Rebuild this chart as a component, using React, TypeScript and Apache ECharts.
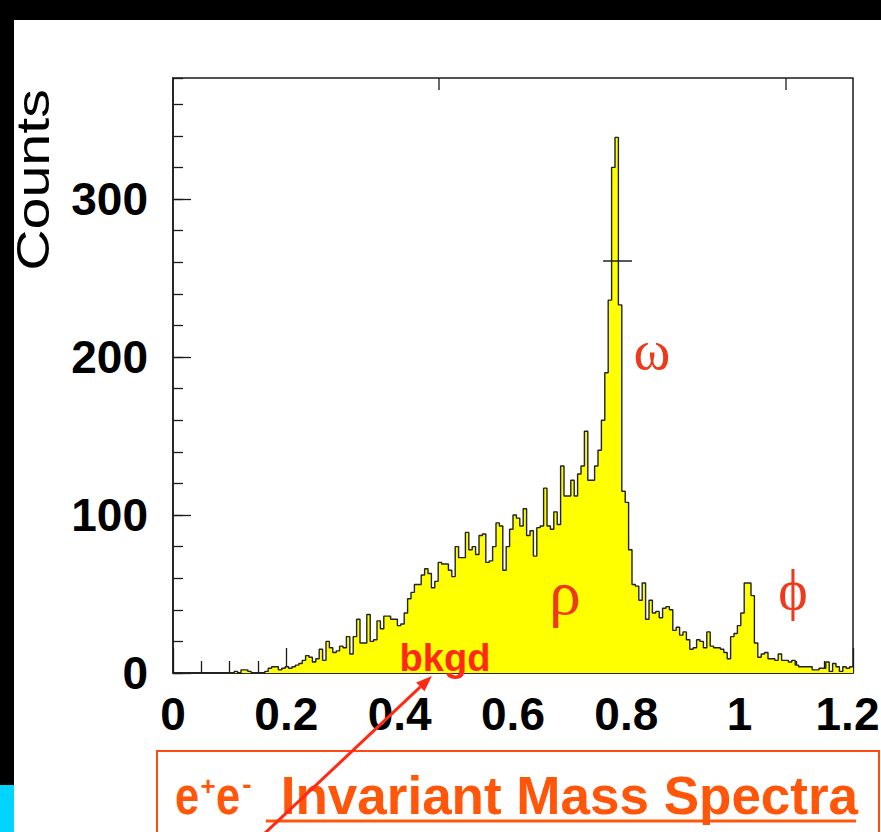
import React, { useEffect, useRef } from "react";
import * as echarts from "echarts";

// Histogram: 200 bins of width 0.006 GeV from 0 to 1.2
const binStart = 0;
const binWidth = 0.006;
const counts = [
  0, 0, 0, 0, 0, 0, 0, 0, 0, 0,
  0, 0, 0, 0, 0, 0, 0, 0, 1, 0,
  2, 2, 1, 0, 0, 0, 0, 1, 3, 4,
  4, 2, 3, 4, 3, 4, 5, 6, 8, 11,
  10, 7, 9, 15, 8, 20, 16, 13, 14, 17,
  16, 23, 12, 23, 34, 19, 19, 37, 20, 21,
  33, 28, 36, 36, 34, 34, 30, 31, 38, 47,
  51, 56, 56, 62, 66, 63, 54, 58, 70, 69,
  69, 65, 61, 80, 73, 73, 89, 78, 80, 75,
  87, 88, 70, 71, 80, 95, 93, 65, 80, 91,
  100, 98, 93, 104, 87, 90, 74, 92, 93, 117,
  93, 91, 102, 94, 131, 112, 112, 122, 112, 126,
  131, 153, 122, 122, 131, 141, 160, 190, 236, 320,
  339, 233, 115, 108, 78, 56, 55, 46, 57, 34,
  46, 38, 39, 35, 41, 42, 40, 27, 29, 24,
  26, 21, 15, 16, 21, 20, 16, 26, 17, 16,
  16, 15, 13, 9, 23, 25, 30, 38, 57, 57,
  49, 19, 10, 12, 13, 9, 9, 8, 12, 8,
  8, 7, 8, 5, 4, 4, 4, 4, 2, 2,
  3, 3, 7, 1, 6, 4, 1, 4, 3, 4,
];

const xMin = 0;
const xMax = 1.2;
const xInterval = 0.2;
const yMin = 0;
const yMax = 376.6;
const yInterval = 100;
const yMinorInterval = 20;

// horizontal error marker drawn on the omega peak
const peakMarkY = 261;
const peakMarkX = [0.759, 0.81];

const titleMain = " Invariant Mass Spectra";
const greekLabels = [
  { text: "ω", x: 652, y: 350, size: 56 },
  { text: "ρ", x: 565, y: 592, size: 64 },
  { text: "ϕ", x: 793, y: 590, size: 56 },
];

export default function App() {
  const ref = useRef<HTMLDivElement>(null);

  useEffect(() => {
    const chart = echarts.init(ref.current!, null, { renderer: "svg" });
    const hist: number[][] = counts.map((c, i) => [
      +(binStart + i * binWidth).toFixed(4),
      c,
    ]);
    hist.push([+(binStart + counts.length * binWidth).toFixed(4), counts[counts.length - 1]]);

    const axisColor = "#1a1a1a";
    const boldSans = '"Liberation Sans", Arial, sans-serif';
    const red = "#ff2a14";
    const orange = "#ff560a";

    // arrow geometry
    const ax0 = 264, ay0 = 834, ax1 = 432, ay1 = 676;
    const dx = ax1 - ax0, dy = ay1 - ay0;
    const len = Math.sqrt(dx * dx + dy * dy);
    const ux = dx / len, uy = dy / len;
    const hl = 16, hw = 6;
    const bx = ax1 - ux * hl, by = ay1 - uy * hl;
    const px = -uy, py = ux;

    chart.setOption({
      animation: false,
      backgroundColor: "#ffffff",
      grid: {
        left: 173,
        top: 78,
        width: 680,
        height: 595,
        outerBoundsMode: "none",
        containLabel: false,
        show: true,
        borderColor: axisColor,
        borderWidth: 1.5,
        backgroundColor: "transparent",
      },
      xAxis: [
        {
          type: "value",
          min: xMin,
          max: xMax,
          interval: xInterval,
          axisLine: { show: true, onZero: false, lineStyle: { color: axisColor, width: 1.5 } },
          axisTick: { show: true, inside: true, length: 25, lineStyle: { color: axisColor, width: 1.3 } },
          minorTick: { show: true, splitNumber: 4, length: 12, lineStyle: { color: axisColor, width: 1.3 } },
          splitLine: { show: false },
          minorSplitLine: { show: false },
          axisLabel: {
            fontFamily: boldSans,
            fontWeight: "bold",
            fontSize: 46,
            color: "#000",
            margin: 18,
            formatter: (value: number) =>
              Math.abs(value - xMax) < 1e-9 ? `{r|${value}}` : `${value}`,
            rich: {
              r: {
                fontFamily: boldSans,
                fontWeight: "bold",
                fontSize: 46,
                color: "#000",
                padding: [0, 11, 0, 0],
              },
            },
          },
        },
      ],
      yAxis: [
        {
          type: "value",
          min: yMin,
          max: yMax,
          interval: yInterval,
          axisLine: { show: true, lineStyle: { color: axisColor, width: 1.5 } },
          axisTick: { show: true, inside: true, length: 18, lineStyle: { color: axisColor, width: 1.3 } },
          splitLine: { show: false },
          axisLabel: {
            fontFamily: boldSans,
            fontWeight: "bold",
            fontSize: 46,
            color: "#000",
            margin: 25,
            showMaxLabel: false,
          },
        },
        {
          type: "value",
          min: yMin,
          max: yMax,
          interval: yMinorInterval,
          position: "left",
          axisLine: { show: false },
          axisTick: { show: true, inside: true, length: 10, lineStyle: { color: axisColor, width: 1.3 } },
          splitLine: { show: false },
          axisLabel: { show: false },
        },
      ],
      series: [
        {
          type: "line",
          step: "end",
          data: hist,
          symbol: "none",
          xAxisIndex: 0,
          yAxisIndex: 0,
          lineStyle: { color: "#222", width: 1.4 },
          areaStyle: { color: "#ffff00", opacity: 1 },
          z: 2,
          markLine: {
            silent: true,
            symbol: ["none", "none"],
            label: { show: false },
            lineStyle: { color: "#222", width: 1.5, type: "solid" },
            data: [[{ coord: [peakMarkX[0], peakMarkY] }, { coord: [peakMarkX[1], peakMarkY] }]],
          },
        },
      ],
      graphic: [
        { type: "rect", z: 0, shape: { x: 0, y: 0, width: 881, height: 20 }, style: { fill: "#000" } },
        { type: "rect", z: 0, shape: { x: 0, y: 0, width: 14, height: 785 }, style: { fill: "#000" } },
        { type: "rect", z: 0, shape: { x: 0, y: 785, width: 14, height: 47 }, style: { fill: "#00d4ff" } },
        { type: "line", z: 10, shape: { x1: 439, y1: 78, x2: 439, y2: 90 }, style: { stroke: axisColor, lineWidth: 1.3 } },
        { type: "line", z: 10, shape: { x1: 786, y1: 78, x2: 786, y2: 90 }, style: { stroke: axisColor, lineWidth: 1.3 } },
        {
          type: "text",
          z: 10,
          x: 33,
          y: 180,
          rotation: Math.PI / 2,
          scaleX: 1.22,
          style: {
            text: "Counts",
            fill: "#000",
            font: '47px "Liberation Sans", Arial, sans-serif',
            textAlign: "center",
            textVerticalAlign: "middle",
          },
        },
        ...greekLabels.map((g) => ({
          type: "text",
          z: 10,
          x: g.x,
          y: g.y,
          style: {
            text: g.text,
            fill: "#ee3a1c",
            font: `${g.size}px "Liberation Serif", "DejaVu Serif", serif`,
            textAlign: "center",
            textVerticalAlign: "middle",
          },
        })),
        {
          type: "text",
          z: 10,
          x: 445,
          y: 658,
          style: {
            text: "bkgd",
            fill: red,
            font: 'bold 38px "Liberation Sans", Arial, sans-serif',
            textAlign: "center",
            textVerticalAlign: "middle",
          },
        },
        {
          type: "rect",
          z: 10,
          shape: { x: 157, y: 751, width: 722, height: 100 },
          style: { fill: "none", stroke: "#ff4a14", lineWidth: 2 },
        },
        {
          type: "text", z: 11, x: 175, y: 795, scaleX: 0.82,
          style: { text: "e", fill: orange, font: 'bold 53px "Liberation Sans", Arial, sans-serif', textAlign: "left", textVerticalAlign: "middle" },
        },
        {
          type: "text", z: 11, x: 208, y: 786,
          style: { text: "+", fill: orange, font: 'bold 26px "Liberation Sans", Arial, sans-serif', textAlign: "center", textVerticalAlign: "middle" },
        },
        {
          type: "text", z: 11, x: 216, y: 795, scaleX: 0.82,
          style: { text: "e", fill: orange, font: 'bold 53px "Liberation Sans", Arial, sans-serif', textAlign: "left", textVerticalAlign: "middle" },
        },
        {
          type: "text", z: 11, x: 247, y: 784,
          style: { text: "-", fill: orange, font: 'bold 28px "Liberation Sans", Arial, sans-serif', textAlign: "center", textVerticalAlign: "middle" },
        },
        {
          type: "text", z: 11, x: 266, y: 795,
          style: { text: titleMain, fill: orange, font: 'bold 53px "Liberation Sans", Arial, sans-serif', textAlign: "left", textVerticalAlign: "middle" },
        },
        {
          type: "line", z: 11,
          shape: { x1: 266, y1: 821, x2: 856, y2: 821 },
          style: { stroke: orange, lineWidth: 3 },
        },
        {
          type: "line", z: 20,
          shape: { x1: ax0, y1: ay0, x2: bx, y2: by },
          style: { stroke: red, lineWidth: 3 },
        },
        {
          type: "polygon", z: 20,
          shape: {
            points: [
              [ax1, ay1],
              [bx + px * hw, by + py * hw],
              [bx - px * hw, by - py * hw],
            ],
          },
          style: { fill: red },
        },
      ],
    });

    return () => {
      chart.dispose();
    };
  }, []);

  return (
    <div
      ref={ref}
      style={{ position: "fixed", left: 0, top: 0, width: 881, height: 832, background: "#fff" }}
    />
  );
}
